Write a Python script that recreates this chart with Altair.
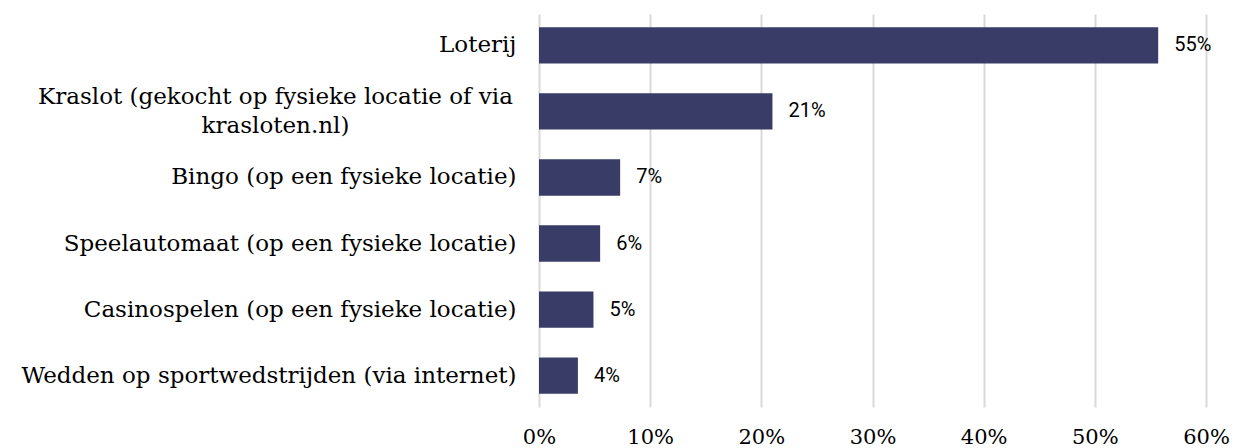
import altair as alt
import pandas as pd

categories = [
    "Loterij",
    "Kraslot (gekocht op fysieke locatie of via krasloten.nl)",
    "Bingo (op een fysieke locatie)",
    "Speelautomaat (op een fysieke locatie)",
    "Casinospelen (op een fysieke locatie)",
    "Wedden op sportwedstrijden (via internet)",
]
values = [0.557, 0.21, 0.073, 0.055, 0.049, 0.035]
value_labels = ["55%", "21%", "7%", "6%", "5%", "4%"]
x_ticks = [0, 0.1, 0.2, 0.3, 0.4, 0.5, 0.6]

df = pd.DataFrame({"cat": categories, "val": values, "lab": value_labels})

serif = "DejaVu Serif"
sans = "Roboto"
bar_color = "#393c67"

is_kraslot = "indexof(datum.label, 'Kraslot') == 0"

y_enc = alt.Y(
    "cat:N",
    sort=categories,
    title=None,
    scale=alt.Scale(paddingInner=0.45, paddingOuter=0.2),
    axis=alt.Axis(
        domain=False,
        ticks=False,
        grid=False,
        labelFont=serif,
        labelFontSize=23,
        labelColor="#000000",
        labelAlign={"condition": {"test": is_kraslot, "value": "center"}, "value": "right"},
        labelPadding={"condition": {"test": is_kraslot, "value": 264}, "value": 23},
        labelOffset={"condition": {"test": is_kraslot, "value": -14}, "value": 0},
        labelLimit=700,
        labelLineHeight=29,
        labelExpr="indexof(datum.label, 'Kraslot') == 0 ? ['Kraslot (gekocht op fysieke locatie of via', 'krasloten.nl)'] : datum.label",
    ),
)

x_enc = alt.X(
    "val:Q",
    title=None,
    scale=alt.Scale(domain=[0, 0.6], nice=False),
    axis=alt.Axis(
        format=".0%",
        values=x_ticks,
        domain=False,
        ticks=False,
        grid=True,
        gridColor="#d9d9d9",
        gridWidth=2,
        labelFlush=False,
        labelFont=serif,
        labelFontSize=21,
        labelColor="#000000",
        labelPadding=19,
    ),
)

bars = alt.Chart(df).mark_bar(color=bar_color).encode(x=x_enc, y=y_enc)

texts = alt.Chart(df).mark_text(
    align="left", baseline="middle", dx=16, font=sans, fontSize=20, color="#000000"
).encode(
    x="val:Q",
    y=alt.Y("cat:N", sort=categories),
    text="lab:N",
)

chart = (
    alt.layer(bars, texts)
    .properties(
        width=667,
        height=393,
        autosize="none",
        padding={"left": 531, "top": 6, "right": 26, "bottom": 40},
    )
    .configure(background="#ffffff", view=alt.ViewConfig(stroke="transparent", strokeWidth=0))
)

chart.save("out.html", embed_options={"renderer": "svg", "actions": False})
